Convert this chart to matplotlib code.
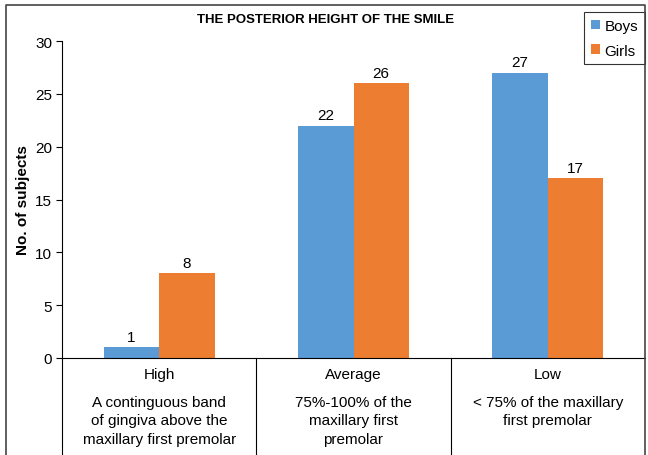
import matplotlib
matplotlib.use("Agg")
import matplotlib.pyplot as plt
from matplotlib.lines import Line2D
import numpy as np

plt.rcParams['font.family'] = ['Liberation Sans', 'DejaVu Sans']

categories = ['High', 'Average', 'Low']
descriptions = ['A continguous band\nof gingiva above the\nmaxillary first premolar',
                '75%-100% of the\nmaxillary first\npremolar',
                '< 75% of the maxillary\nfirst premolar']
boys = [1, 22, 27]
girls = [8, 26, 17]
yticks = [0, 5, 10, 15, 20, 25, 30]

BLUE = '#5B9BD5'
ORANGE = '#ED7D31'

W, H = 648, 456
fig = plt.figure(figsize=(W / 100, H / 100), dpi=100)
ax = fig.add_axes([62 / W, 1 - 359 / H, (645 - 62) / W, (359 - 42) / H])

x = np.arange(len(categories))
bw = 0.285
b1 = ax.bar(x - bw / 2, boys, bw, color=BLUE, label='Boys')
b2 = ax.bar(x + bw / 2, girls, bw, color=ORANGE, label='Girls')
for bars in (b1, b2):
    for r in bars:
        ax.annotate(f'{int(r.get_height())}', (r.get_x() + r.get_width() / 2, r.get_height()),
                    xytext=(0, 2.5), textcoords='offset points', ha='center', va='bottom',
                    fontsize=11)

ax.set_xlim(-0.5, 2.5)
ax.set_ylim(0, 30)
ax.set_yticks(yticks)
ax.tick_params(axis='y', labelsize=11, length=4, width=0.8, pad=3)
ax.set_xticks([])
ax.spines['top'].set_visible(False)
ax.spines['right'].set_visible(False)
ax.spines['left'].set_linewidth(0.8)
ax.spines['bottom'].set_linewidth(0.8)
ax.set_ylabel('No. of subjects', fontsize=11, fontweight='bold', labelpad=4)

# category grid below the axis
trans = ax.get_xaxis_transform()
for b in [-0.5, 0.5, 1.5]:
    ax.plot([b, b], [0, -0.32], color='black', lw=0.8, transform=trans, clip_on=False)
for i, (c, d) in enumerate(zip(categories, descriptions)):
    ax.text(i, -16 / 317, c, transform=trans, ha='center', va='center', fontsize=11)
    ax.text(i, -37 / 317, d, transform=trans, ha='center', va='top', fontsize=11,
            linespacing=1.4)

fig.text(326 / W, 1 - 20 / H, 'THE POSTERIOR HEIGHT OF THE SMILE', fontsize=9.5,
         fontweight='bold', ha='center', va='center')

leg = ax.legend(loc='upper right', bbox_to_anchor=(645 / W, 1 - 13 / H),
                bbox_transform=fig.transFigure, fontsize=11, frameon=True,
                fancybox=False, handlelength=0.6, handleheight=0.6,
                handletextpad=0.3, borderpad=0.45, labelspacing=0.7,
                borderaxespad=0)
leg.get_frame().set_edgecolor('black')
leg.get_frame().set_linewidth(0.8)

# outer border (left, top, right)
px = lambda v: v / W
py = lambda v: 1 - v / H
fig.add_artist(Line2D([px(6), px(6), px(645), px(645)], [py(460), py(6), py(6), py(460)],
                      color='#444444', lw=1.2, transform=fig.transFigure))

fig.savefig('out.png', dpi=100)
